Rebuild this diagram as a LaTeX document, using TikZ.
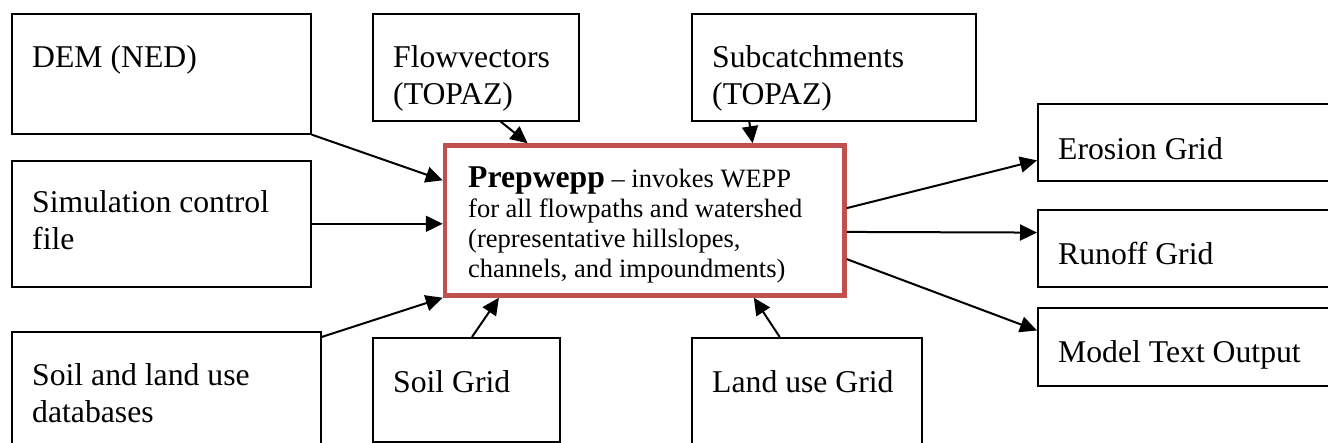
\documentclass[tikz,border=0pt]{standalone}
\usepackage{fontspec}
\setmainfont{Liberation Serif}
\usetikzlibrary{arrows.meta,calc}
\definecolor{prepred}{HTML}{C0504D}
\begin{document}
\begin{tikzpicture}[x=1pt,y=-1pt,
 box/.style={draw, line width=1.6pt, rectangle, inner sep=0pt, anchor=north west},
 txt/.style={anchor=base west, inner sep=0pt, align=left, font=\rmfamily\fontsize{31.7}{37}\selectfont},
 ptxt/.style={anchor=base west, inner sep=0pt, align=left, font=\rmfamily\fontsize{26.5}{30}\selectfont},
 prepbox/.style={draw=prepred, line width=4.5pt, rectangle, inner sep=0pt},
 arr/.style={-{Triangle[length=17pt,width=16pt]}, line width=2pt}]
\useasboundingbox (0,0) rectangle (1328,443);
\clip (0,0) rectangle (1328,443);
% input boxes (text nodes anchored at the baseline of their last line)
\node[box, minimum width=299pt, minimum height=120pt] (dem) at (11,13) {};
\node[txt] (demT) at (32,68) {DEM (NED)};
\node[box, minimum width=299pt, minimum height=126pt] (sim) at (11,160) {};
\node[txt] (simT) at (32,250) {Simulation control\\file};
\node[box, minimum width=309pt, minimum height=140pt] (soilland) at (11,331) {};
\node[txt] (soillandT) at (32,423) {Soil and land use\\databases};
\node[box, minimum width=206pt, minimum height=107pt] (flow) at (372,13) {};
\node[txt] (flowT) at (393,105) {Flowvectors\\(TOPAZ)};
\node[box, minimum width=284pt, minimum height=107pt] (sub) at (691,13) {};
\node[txt] (subT) at (712,105) {Subcatchments\\(TOPAZ)};
\node[box, minimum width=187pt, minimum height=104pt] (soilg) at (372,337) {};
\node[txt] (soilgT) at (393,393) {Soil Grid};
\node[box, minimum width=230pt, minimum height=140pt] (landg) at (691,337) {};
\node[txt] (landgT) at (712,393) {Land use Grid};
% outputs
\node[box, minimum width=350pt, minimum height=77pt] (ero) at (1037,103) {};
\node[txt] (eroT) at (1058,160) {Erosion Grid};
\node[box, minimum width=350pt, minimum height=77pt] (run) at (1037,209) {};
\node[txt] (runT) at (1058,265) {Runoff Grid};
\node[box, minimum width=350pt, minimum height=78pt] (model) at (1037,307) {};
\node[txt] (modelT) at (1058,363) {Model Text Output};
% central
\node[prepbox, minimum width=399.5pt, minimum height=150pt] (prep) at (644.75,220.5) {};
\node[ptxt] (prepT) at (468,278) {{\fontsize{31.7}{30}\selectfont\bfseries Prepwepp} -- invokes WEPP\\for all flowpaths and watershed\\(representative hillslopes,\\channels, and impoundments)};
% connectors
\draw[arr] (dem.south east) -- ($(prep.north west)!0.24!(prep.south west)$);
\draw[arr] (sim.east) -- (prep.west |- sim.east);
\draw[arr] ($(soilland.north east)+(0,6)$) -- (prep.south west);
\draw[arr] ($(flow.south west)!0.62!(flow.south east)$) -- ($(prep.north west)!0.21!(prep.north east)$);
\draw[arr] ($(sub.south west)!0.204!(sub.south east)$) -- ($(prep.north west)!0.767!(prep.north east)$);
\draw[arr] ($(soilg.north west)!0.53!(soilg.north east)$) -- ($(prep.south west)!0.139!(prep.south east)$);
\draw[arr] ($(landg.north west)!0.383!(landg.north east)$) -- ($(prep.south west)!0.77!(prep.south east)$);
\draw[arr] ($(prep.north east)!0.42!(prep.south east)$) -- ($(ero.north west)!0.73!(ero.south west)$);
\draw[arr] ($(prep.north east)!0.574!(prep.south east)$) -- ($(run.north west)!0.30!(run.south west)$);
\draw[arr] ($(prep.north east)!0.75!(prep.south east)$) -- ($(model.north west)!0.295!(model.south west)$);
\end{tikzpicture}
\end{document}
